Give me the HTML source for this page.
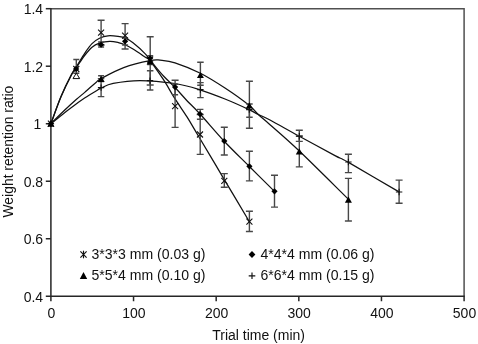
<!DOCTYPE html>
<html><head><meta charset="utf-8"><title>Weight retention ratio</title>
<style>
html,body{margin:0;padding:0;background:#fff;}
svg{display:block;}
text{font-family:"Liberation Sans",Arial,Helvetica,sans-serif;fill:#111;}
</style></head><body>
<svg width="478" height="344" viewBox="0 0 478 344">
<rect width="478" height="344" fill="#fff"/>

<g fill="none" stroke="#262626" stroke-width="1.5">
<path d="M50.9 8.7H464.1V296.25" stroke="#505050"/>
<path d="M50.9 8V296.25H464.8"/>
<line x1="45.8" y1="8.70" x2="50.9" y2="8.70"/>
<line x1="45.8" y1="66.21" x2="50.9" y2="66.21"/>
<line x1="45.8" y1="123.72" x2="50.9" y2="123.72"/>
<line x1="45.8" y1="181.23" x2="50.9" y2="181.23"/>
<line x1="45.8" y1="238.74" x2="50.9" y2="238.74"/>
<line x1="45.8" y1="296.25" x2="50.9" y2="296.25"/>
<line x1="50.90" y1="296.25" x2="50.90" y2="301.25"/>
<line x1="133.54" y1="296.25" x2="133.54" y2="301.25"/>
<line x1="216.18" y1="296.25" x2="216.18" y2="301.25"/>
<line x1="298.82" y1="296.25" x2="298.82" y2="301.25"/>
<line x1="381.46" y1="296.25" x2="381.46" y2="301.25"/>
<line x1="464.10" y1="296.25" x2="464.10" y2="301.25"/>
</g>
<g font-size="14px" text-anchor="end">
<text x="43.1" y="14.0">1.4</text>
<text x="43.1" y="71.5">1.2</text>
<text x="41.3" y="129.0">1</text>
<text x="43.1" y="186.5">0.8</text>
<text x="43.1" y="244.0">0.6</text>
<text x="43.1" y="301.6">0.4</text>
</g>
<g font-size="14px" text-anchor="middle">
<text x="51.3" y="317.6">0</text>
<text x="133.9" y="317.6">100</text>
<text x="216.6" y="317.6">200</text>
<text x="299.2" y="317.6">300</text>
<text x="381.9" y="317.6">400</text>
<text x="464.5" y="317.6">500</text>
</g>
<text font-size="14px" text-anchor="middle" x="258.6" y="340">Trial time (min)</text>
<text font-size="13.9px" text-anchor="middle" transform="translate(12.6,151.6) rotate(-90)">Weight retention ratio</text>
<g fill="none" stroke="#111" stroke-width="1.25" stroke-linecap="round">
<path d="M50.9 123.7 C52.6 119.2 57.6 104.8 61.0 96.6 C64.4 88.4 68.8 79.6 71.4 74.6 C74.0 69.5 74.3 69.9 76.6 66.3 C78.9 62.7 82.4 56.6 85.0 52.8 C87.6 49.0 89.6 46.0 92.0 43.6 C94.4 41.2 96.8 39.5 99.5 38.2 C102.2 36.9 104.9 36.1 108.0 35.8 C111.1 35.5 115.2 36.0 118.0 36.4 C120.8 36.8 122.5 36.8 125.0 37.9 C127.5 39.0 129.7 40.2 133.0 42.8 C136.3 45.4 142.2 50.7 145.0 53.6 C147.8 56.5 146.9 55.9 150.0 60.3 C153.1 64.6 159.4 73.4 163.5 79.7 C167.6 86.0 170.7 92.0 174.6 98.2 C178.5 104.4 183.1 110.7 187.0 116.9 C190.9 123.1 191.9 125.0 198.1 135.5 C204.3 145.9 215.8 165.2 224.3 179.6 C232.9 194.0 245.2 214.7 249.4 221.7"/>
<path d="M50.9 123.7 C52.6 119.2 57.6 104.9 61.0 96.8 C64.4 88.7 68.8 79.9 71.4 75.0 C74.0 70.1 74.3 70.5 76.6 67.2 C78.9 63.9 82.4 58.3 85.0 55.0 C87.6 51.7 89.6 49.2 92.0 47.2 C94.4 45.2 96.5 44.2 99.5 43.2 C102.5 42.2 106.5 41.4 109.7 41.3 C112.9 41.2 115.9 42.0 118.4 42.6 C121.0 43.2 122.6 43.7 125.0 44.8 C127.4 45.9 129.7 47.0 133.0 49.0 C136.3 51.0 142.2 55.1 145.0 57.0 C147.8 58.9 146.9 57.1 150.0 60.3 C153.1 63.5 159.3 71.5 163.5 76.0 C167.7 80.5 171.1 83.4 175.0 87.5 C178.9 91.6 182.8 96.3 187.0 100.7 C191.2 105.1 193.8 107.3 200.0 114.0 C206.2 120.7 215.8 132.2 224.0 141.0 C232.2 149.8 241.0 158.1 249.4 166.5 C257.8 174.9 270.3 187.2 274.5 191.4"/>
<path d="M50.9 123.7 C53.1 121.5 59.7 114.9 64.0 110.8 C68.3 106.7 73.0 102.4 76.5 99.3 C80.0 96.2 81.8 94.9 85.0 92.1 C88.2 89.3 93.3 84.8 96.0 82.6 C98.7 80.3 96.5 81.1 101.1 78.6 C105.7 76.1 115.5 70.6 123.7 67.6 C131.8 64.6 143.9 61.8 150.0 60.6 C156.1 59.4 155.8 59.8 160.0 60.2 C164.2 60.6 168.3 60.6 175.0 62.8 C181.7 65.0 192.1 69.0 200.4 73.2 C208.7 77.4 216.9 82.7 225.0 88.0 C233.1 93.3 243.5 100.8 249.0 105.2 C254.5 109.6 254.5 111.0 258.0 114.2 C261.5 117.5 263.1 118.6 270.0 124.7 C276.9 130.8 286.2 138.6 299.3 151.0 C312.4 163.4 340.2 191.2 348.4 199.2"/>
<path d="M50.9 123.7 C53.1 122.0 59.7 116.5 64.0 113.2 C68.3 109.9 73.0 106.4 76.5 103.8 C80.0 101.2 81.8 99.8 85.0 97.7 C88.2 95.6 93.3 92.6 96.0 91.0 C98.7 89.4 98.2 89.4 101.1 88.1 C104.0 86.8 106.7 84.7 113.2 83.4 C119.7 82.1 129.7 80.5 140.0 80.5 C150.3 80.5 165.0 82.0 175.0 83.5 C185.0 85.0 191.7 87.2 200.0 89.8 C208.3 92.4 216.8 95.7 225.0 99.0 C233.2 102.3 243.5 107.0 249.0 109.6 C254.5 112.1 254.5 112.6 258.0 114.3 C261.5 116.0 263.1 116.3 270.0 120.0 C276.9 123.7 288.5 130.3 299.3 136.2 C310.1 142.1 326.8 151.2 335.0 155.6 C343.2 160.0 337.8 156.3 348.5 162.4 C359.2 168.5 390.6 187.0 399.0 191.9"/>
</g>
<g fill="none" stroke="#484848" stroke-width="1.4">
<path d="M76.3 59.5V78.0M73.3 59.5h6.0M73.3 78.0h6.0"/>
<path d="M76.3 73.3V78.3M73.3 73.3h6.0M73.3 78.3h6.0"/>
<path d="M101.1 20.2V45.0M97.6 20.2h7.0M97.6 45.0h7.0"/>
<path d="M101.1 42.0V47.0M98.1 42.0h6.0M98.1 47.0h6.0"/>
<path d="M101.1 75.7V81.5M98.1 75.7h6.0M98.1 81.5h6.0"/>
<path d="M101.1 78.6V96.6M97.8 78.6h6.5M97.8 96.6h6.5"/>
<path d="M125.1 23.6V49.0M121.6 23.6h7.0M121.6 49.0h7.0"/>
<path d="M125.1 38.0V45.0M122.1 38.0h6.0M122.1 45.0h6.0"/>
<path d="M150.2 36.7V85.0M146.7 36.7h7.0M146.7 85.0h7.0"/>
<path d="M150.2 55.6V64.5M147.2 55.6h6.0M147.2 64.5h6.0"/>
<path d="M150.2 70.8V90.0M146.9 70.8h6.5M146.9 90.0h6.5"/>
<path d="M175.1 80.3V127.4M171.6 80.3h7.0M171.6 127.4h7.0"/>
<path d="M175.1 84.3V94.7M172.1 84.3h6.0M172.1 94.7h6.0"/>
<path d="M200.4 62.3V85.3M197.2 62.3h6.5M197.2 85.3h6.5"/>
<path d="M200.4 82.6V97.6M197.2 82.6h6.5M197.2 97.6h6.5"/>
<path d="M200.2 109.4V119.2M196.9 109.4h6.5M196.9 119.2h6.5"/>
<path d="M200.2 114.5V154.4M196.7 114.5h7.0M196.7 154.4h7.0"/>
<path d="M224.3 127.2V155.0M220.8 127.2h7.0M220.8 155.0h7.0"/>
<path d="M224.3 173.6V187.2M220.8 173.6h7.0M220.8 187.2h7.0"/>
<path d="M249.4 81.3V128.3M245.9 81.3h7.0M245.9 128.3h7.0"/>
<path d="M249.4 104.0V117.2M246.2 104.0h6.5M246.2 117.2h6.5"/>
<path d="M249.4 151.3V180.9M245.9 151.3h7.0M245.9 180.9h7.0"/>
<path d="M249.4 211.3V231.5M245.9 211.3h7.0M245.9 231.5h7.0"/>
<path d="M274.5 175.3V207.1M271.0 175.3h7.0M271.0 207.1h7.0"/>
<path d="M299.3 130.3V141.4M295.8 130.3h7.0M295.8 141.4h7.0"/>
<path d="M299.3 136.0V166.9M295.8 136.0h7.0M295.8 166.9h7.0"/>
<path d="M348.4 154.3V172.6M344.9 154.3h7.0M344.9 172.6h7.0"/>
<path d="M348.4 178.4V221.0M344.9 178.4h7.0M344.9 221.0h7.0"/>
<path d="M399.1 180.1V203.2M395.6 180.1h7.0M395.6 203.2h7.0"/>
</g>
<path d="M47.7 123.7h6.4M50.9 120.5v6.4" stroke="#111" stroke-width="1.1" fill="none"/>
<path d="M97.9 87.6h6.4M101.1 84.4v6.4" stroke="#111" stroke-width="1.1" fill="none"/>
<path d="M146.8 80.6h6.4M150.0 77.4v6.4" stroke="#111" stroke-width="1.1" fill="none"/>
<path d="M197.2 89.6h6.4M200.4 86.4v6.4" stroke="#111" stroke-width="1.1" fill="none"/>
<path d="M246.1 109.6h6.4M249.3 106.4v6.4" stroke="#111" stroke-width="1.1" fill="none"/>
<path d="M296.1 136.2h6.4M299.3 133.0v6.4" stroke="#111" stroke-width="1.1" fill="none"/>
<path d="M345.2 162.0h6.4M348.4 158.8v6.4" stroke="#111" stroke-width="1.1" fill="none"/>
<path d="M395.9 192.0h6.4M399.1 188.8v6.4" stroke="#111" stroke-width="1.1" fill="none"/>
<path d="M47.9 120.7l6.0 6.0M47.9 126.7l6.0 -6.0" stroke="#111" stroke-width="1.1" fill="none"/>
<path d="M73.3 66.0l6.0 6.0M73.3 72.0l6.0 -6.0" stroke="#111" stroke-width="1.1" fill="none"/>
<path d="M98.1 29.6l6.0 6.0M98.1 35.6l6.0 -6.0" stroke="#111" stroke-width="1.1" fill="none"/>
<path d="M122.1 32.6l6.0 6.0M122.1 38.6l6.0 -6.0" stroke="#111" stroke-width="1.1" fill="none"/>
<path d="M147.1 56.5l6.0 6.0M147.1 62.5l6.0 -6.0" stroke="#111" stroke-width="1.1" fill="none"/>
<path d="M172.1 103.2l6.0 6.0M172.1 109.2l6.0 -6.0" stroke="#111" stroke-width="1.1" fill="none"/>
<path d="M197.0 131.5l6.0 6.0M197.0 137.5l6.0 -6.0" stroke="#111" stroke-width="1.1" fill="none"/>
<path d="M221.3 177.9l6.0 6.0M221.3 183.9l6.0 -6.0" stroke="#111" stroke-width="1.1" fill="none"/>
<path d="M246.4 218.7l6.0 6.0M246.4 224.7l6.0 -6.0" stroke="#111" stroke-width="1.1" fill="none"/>
<path d="M50.9 120.6l3.5 6.2h-7.0z" fill="#000"/>
<path d="M101.1 75.7l3.5 6.2h-7.0z" fill="#000"/>
<path d="M150.1 58.2l3.5 6.2h-7.0z" fill="#000"/>
<path d="M200.4 71.9l3.5 6.2h-7.0z" fill="#000"/>
<path d="M249.3 102.3l3.5 6.2h-7.0z" fill="#000"/>
<path d="M299.3 148.3l3.5 6.2h-7.0z" fill="#000"/>
<path d="M348.4 196.6l3.5 6.2h-7.0z" fill="#000"/>
<path d="M50.9 120.5l3.1 3.1l-3.1 3.1l-3.1 -3.1z" fill="#000"/>
<path d="M76.1 65.8l3.1 3.1l-3.1 3.1l-3.1 -3.1z" fill="#000"/>
<path d="M101.1 41.6l3.1 3.1l-3.1 3.1l-3.1 -3.1z" fill="#000"/>
<path d="M125.1 38.2l3.1 3.1l-3.1 3.1l-3.1 -3.1z" fill="#000"/>
<path d="M150.1 55.1l3.1 3.1l-3.1 3.1l-3.1 -3.1z" fill="#000"/>
<path d="M175.1 84.0l3.1 3.1l-3.1 3.1l-3.1 -3.1z" fill="#000"/>
<path d="M200.0 111.0l3.1 3.1l-3.1 3.1l-3.1 -3.1z" fill="#000"/>
<path d="M224.3 138.0l3.1 3.1l-3.1 3.1l-3.1 -3.1z" fill="#000"/>
<path d="M249.4 163.2l3.1 3.1l-3.1 3.1l-3.1 -3.1z" fill="#000"/>
<path d="M274.5 188.2l3.1 3.1l-3.1 3.1l-3.1 -3.1z" fill="#000"/>
<path d="M76.3 73l3.3 5.6h-6.6z" fill="#fff" stroke="#111" stroke-width="1"/>
<path d="M80.4 251.4l6.2 6.2M80.4 257.6l6.2 -6.2" stroke="#111" stroke-width="1.15" fill="none"/>
<path d="M83.5 250.7v7.6" stroke="#111" stroke-width="1.15"/>
<path d="M83.5 272.0l3.7 7.0h-7.4z" fill="#000"/>
<path d="M252.0 251.1l3.4 3.4l-3.4 3.4l-3.4 -3.4z" fill="#000"/>
<path d="M248.7 275.8h6.6M252.0 272.5v6.6" stroke="#111" stroke-width="1.15" fill="none"/>
<g font-size="14.05px">
<text x="91.5" y="258.7">3*3*3 mm (0.03 g)</text>
<text x="91.5" y="279.7">5*5*4 mm (0.10 g)</text>
<text x="260.5" y="258.7">4*4*4 mm (0.06 g)</text>
<text x="260.5" y="279.7">6*6*4 mm (0.15 g)</text>
</g>
</svg></body></html>
